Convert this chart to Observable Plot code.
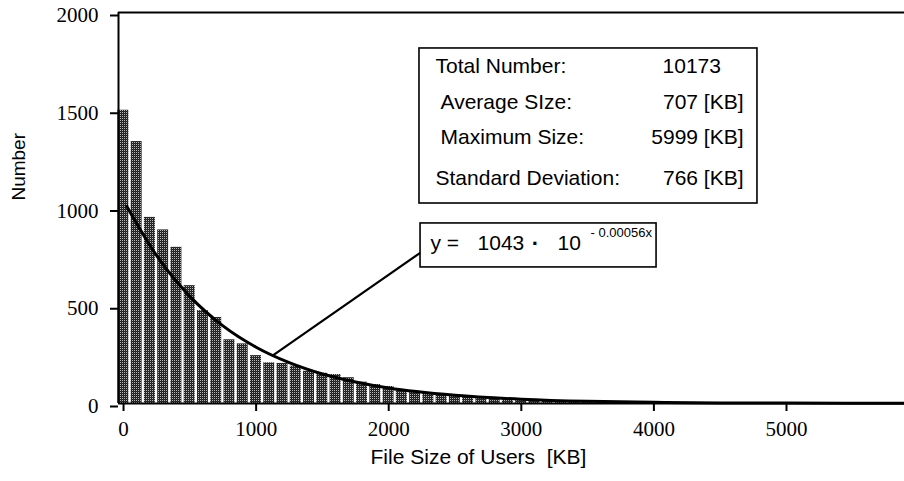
<!DOCTYPE html>
<html>
<head>
<meta charset="utf-8">
<script src="https://cdn.jsdelivr.net/npm/d3@7"></script>
<script src="https://cdn.jsdelivr.net/npm/@observablehq/plot@0.6"></script>
<style>
  html, body { margin: 0; padding: 0; background: #fff; }
  #chart svg { display: block; }
</style>
</head>
<body>
<div id="chart"></div>
<script>
// ---- data ----
// histogram bins (KB, bin centre) and counts
const binCentersKB = d3.range(0, 6000, 100);
const fileCounts = [
  1500, 1340, 952, 888, 799, 603, 475, 440, 326, 305,
  245, 208, 205, 191, 165, 155, 148, 132, 109, 97,
  87, 70, 58, 53, 46, 45, 36, 32, 29, 19,
  18, 16, 14, 12, 10, 9, 8, 7, 6, 5,
  5, 4, 4, 3, 3, 3, 2, 2, 2, 2,
  1, 1, 1, 1, 1, 1, 1, 1, 1, 4
];
// fitted curve y = 1043 * 10^(-0.00056x)
const fitX = [25, 250, 500, 750, 1000, 1250, 1500, 1750, 2000, 2500, 3000, 3500, 4000, 4500, 5000, 5890];
const fitY = [1008, 756, 548, 397, 288, 209, 151, 110, 79, 42, 22, 11, 6, 3, 2, 1];

const xTicks = [0, 1000, 2000, 3000, 4000, 5000];
const yTicks = [0, 500, 1000, 1500, 2000];

const statLabels = ["Total Number:", "Average SIze:", "Maximum Size:", "Standard Deviation:"];
const statValues = ["10173", "707 [KB]", "5999 [KB]", "766 [KB]"];
const equationParts = ["y =", "1043", "\u00b7", "10"];
const equationExponent = "- 0.00056x";

const xLabel = "File Size of Users\u00a0 [KB]";
const yLabel = "Number";

// ---- tables built from the arrays ----
const hist = binCentersKB.map((c, i) => ({size: c, count: fileCounts[i]}));
const fit = fitX.map((x, i) => ({x, y: fitY[i]}));

const xDomain = [-38, 5890];
const yDomain = [0, 2000];

// annotation layout (data coordinates)
const statBox = {x1: 2232, x2: 4781, y1: 1023, y2: 1816};
const eqBox = {x1: 2240, x2: 4020, y1: 696, y2: 921};
const callout = {x1: 1124, y1: 245, x2: 2240, y2: 772};
const statRowsY = [1724, 1541, 1362, 1151];
const statLabelX = [2353, 2391, 2391, 2353];
const statValueX = [4065, 4676, 4676, 4676];
const statValueAnchor = ["start", "end", "end", "end"];
const eqPartX = [2315, 2670, 3107, 3273];
const eqPartAnchor = ["start", "start", "middle", "start"];

const statRows = statLabels.map((l, i) => ({
  label: l, value: statValues[i], y: statRowsY[i], lx: statLabelX[i], vx: statValueX[i], va: statValueAnchor[i]
}));
const eqRows = equationParts.map((t, i) => ({t, x: eqPartX[i], a: eqPartAnchor[i]}));

const SANS = "'Liberation Sans', Arial, Helvetica, sans-serif";
const SERIF = "'Liberation Serif', 'Times New Roman', serif";

const chart = Plot.plot({
  width: 904,
  height: 481,
  marginLeft: 118,
  marginRight: 0,
  marginTop: 12,
  marginBottom: 78,
  style: {background: "#fff", color: "#000", fontFamily: SANS},
  x: {domain: xDomain, label: null, axis: null},
  y: {domain: yDomain, label: null, axis: null},
  marks: [
    Plot.rectY(hist, {
      x1: d => d.size - 50, x2: d => d.size + 50, y: "count",
      fill: "url(#dots)", insetLeft: 1, insetRight: 1.3
    }),
    Plot.line(fit, {x: "x", y: "y", stroke: "#000", strokeWidth: 3, curve: "monotone-x"}),
    Plot.link([callout], {x1: "x1", y1: "y1", x2: "x2", y2: "y2", stroke: "#000", strokeWidth: 2.2}),
    Plot.rect([statBox], {x1: "x1", x2: "x2", y1: "y1", y2: "y2", fill: "#fff", stroke: "#000", strokeWidth: 1.6}),
    Plot.rect([eqBox], {x1: "x1", x2: "x2", y1: "y1", y2: "y2", fill: "#fff", stroke: "#000", strokeWidth: 1.6}),
    Plot.text(statRows, {x: "lx", y: "y", text: "label", textAnchor: "start", fontSize: 21, fontFamily: SANS, fill: "#000"}),
    Plot.text(statRows.filter(d => d.va === "start"), {x: "vx", y: "y", text: "value", textAnchor: "start", fontSize: 21, fontFamily: SANS, fill: "#000"}),
    Plot.text(statRows.filter(d => d.va === "end"), {x: "vx", y: "y", text: "value", textAnchor: "end", fontSize: 21, fontFamily: SANS, fill: "#000"}),
    Plot.text(eqRows.filter(d => d.a === "start"), {x: "x", y: 818, text: "t", textAnchor: "start", fontSize: 21, fontFamily: SANS, fill: "#000"}),
    Plot.text(eqRows.filter(d => d.a === "middle"), {x: "x", y: 818, text: "t", textAnchor: "middle", fontSize: 22, fontWeight: "bold", fontFamily: SANS, fill: "#000"}),
    Plot.text([equationExponent], {x: 3522, y: 872, text: d => d, textAnchor: "start", fontSize: 13, fontFamily: SANS, fill: "#000"}),
    Plot.ruleY([yDomain[1]], {stroke: "#000", strokeWidth: 1.8}),
    Plot.ruleY([yDomain[0]], {stroke: "#000", strokeWidth: 2}),
    Plot.ruleX([xDomain[0]], {stroke: "#000", strokeWidth: 2}),
    Plot.axisX({ticks: xTicks, tickFormat: "d", tickSize: 8, tickPadding: 10, strokeWidth: 2,
      fontSize: 21, fontFamily: SERIF, label: null}),
    Plot.axisY({ticks: yTicks, tickFormat: "d", tickSize: 8, tickPadding: 12, strokeWidth: 2,
      fontSize: 21, fontFamily: SERIF, dy: 3, label: null}),
    Plot.text([xLabel], {x: 2677, frameAnchor: "bottom", dy: 60, text: d => d, fontSize: 21, fontFamily: SANS, fill: "#000"}),
    Plot.text([yLabel], {y: 1038, frameAnchor: "left", dx: -100, rotate: -90, text: d => d, fontSize: 19, fontFamily: SANS, fill: "#000"})
  ]
});

// halftone pattern for the bars
const ns = "http://www.w3.org/2000/svg";
const defs = document.createElementNS(ns, "defs");
const pat = document.createElementNS(ns, "pattern");
pat.setAttribute("id", "dots");
pat.setAttribute("patternUnits", "userSpaceOnUse");
pat.setAttribute("width", "2");
pat.setAttribute("height", "2");
const cells = [[0, 0, "#b8b8b8"], [1, 0, "#1e1e1e"], [0, 1, "#1e1e1e"], [1, 1, "#303030"]];
for (const [cx, cy, col] of cells) {
  const r = document.createElementNS(ns, "rect");
  r.setAttribute("x", cx); r.setAttribute("y", cy);
  r.setAttribute("width", 1); r.setAttribute("height", 1);
  r.setAttribute("fill", col);
  pat.appendChild(r);
}
defs.appendChild(pat);
chart.insertBefore(defs, chart.firstChild);

document.getElementById("chart").appendChild(chart);
</script>
</body>
</html>
